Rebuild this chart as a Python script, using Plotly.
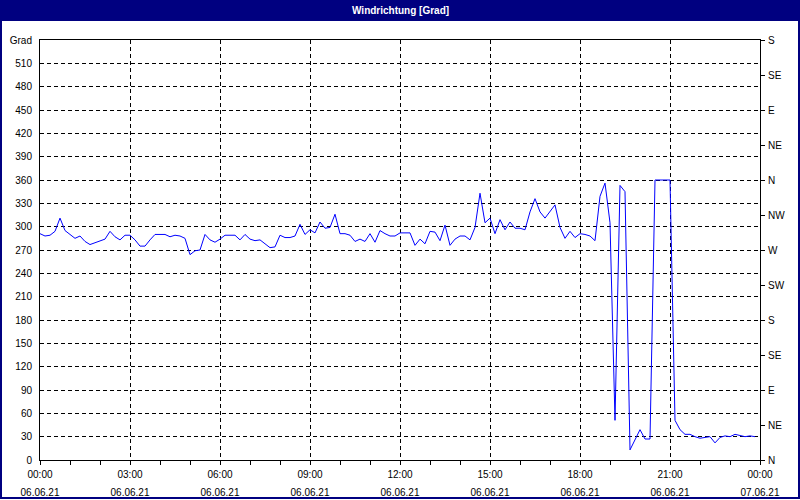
import pandas as pd
import plotly.graph_objects as go

# ---- data ----
start_time = "2021-06-06 00:00"
interval = "10min"
direction_deg = [
    291, 288, 289, 294, 311, 295, 290, 285, 288, 281, 277, 279, 281, 284, 294, 287, 283, 289, 289, 283, 275, 275, 283, 290, 290,
    290, 287, 289, 288, 285, 264, 269, 270, 290, 283, 280, 284, 289, 289, 289, 283, 290, 284, 282, 283, 278, 273, 274, 289,
    286, 286, 288, 303, 290, 296, 292, 306, 298, 299, 316, 291, 291, 289, 281, 284, 281, 291, 280, 295, 291, 288, 288, 292,
    292, 292, 276, 284, 278, 294, 293, 282, 302, 276, 284, 288, 288, 283, 299, 343, 305, 311, 291, 309, 296, 306, 298, 298,
    296, 319, 336, 319, 311, 319, 328, 299, 285, 294, 286, 291, 290, 288, 282,
    339, 356, 305, 51, 353, 345, 13, 26, 39, 27, 27, 360, 360, 360, 360,
    51, 39, 33, 33, 30, 28, 29, 30, 22, 29, 31, 30, 33, 31, 30, 31, 30,
]
times = pd.date_range(start_time, periods=len(direction_deg), freq=interval)

x_tickvals = ["2021-06-06 00:00", "2021-06-06 03:00", "2021-06-06 06:00", "2021-06-06 09:00",
              "2021-06-06 12:00", "2021-06-06 15:00", "2021-06-06 18:00", "2021-06-06 21:00",
              "2021-06-07 00:00"]
x_time_labels = ["00:00", "03:00", "06:00", "09:00", "12:00", "15:00", "18:00", "21:00", "00:00"]
x_date_labels = ["06.06.21"] * 8 + ["07.06.21"]

y_left_vals = list(range(0, 541, 30))
y_left_labels = [str(v) for v in range(0, 511, 30)] + ["Grad"]
y_right_vals = list(range(0, 541, 45))
y_right_labels = ["N", "NE", "E", "SE", "S", "SW", "W", "NW", "N", "NE", "E", "SE", "S"]

title_text = "Windrichtung [Grad]"

# ---- figure ----
W, H = 800, 500
L, R, T, B = 40, 40, 40, 40
pw, ph = W - L - R, H - T - B

def px_x(p):
    return (p - L) / pw

def px_y(p):
    return (H - B - p) / ph

NAVY = "#000080"
FONT = dict(family="Liberation Sans, Arial, sans-serif", size=10, color="black")

fig = go.Figure()
fig.add_trace(go.Scatter(x=times, y=direction_deg, mode="lines",
                         line=dict(color="#0000FF", width=1), showlegend=False,
                         hoverinfo="x+y"))
# helper invisible trace so the secondary axes are drawn
fig.add_trace(go.Scatter(x=times, y=direction_deg, mode="lines", xaxis="x2", yaxis="y2",
                         line=dict(color="rgba(0,0,0,0)", width=0), showlegend=False,
                         hoverinfo="skip"))

fig.update_layout(
    template="none",
    width=W, height=H,
    margin=dict(l=L, r=R, t=T, b=B, autoexpand=False),
    paper_bgcolor="white", plot_bgcolor="white",
    font=FONT,
    showlegend=False,
    xaxis=dict(
        type="date", automargin=False,
        range=["2021-06-06 00:00", "2021-06-07 00:00"],
        tickmode="array", tickvals=x_tickvals, ticktext=x_time_labels,
        ticks="outside", ticklen=4, tickcolor="black", tickwidth=1,
        minor=dict(dtick=3600000, tick0="2021-06-06", ticks="outside", ticklen=4,
                   tickcolor="black", showgrid=False),
        showgrid=True, gridcolor="black", gridwidth=1, griddash="4px,3px",
        showline=True, linecolor="black", linewidth=1, mirror=True,
        zeroline=False, ticklabelstandoff=1,
    ),
    xaxis2=dict(
        type="date", overlaying="x", side="bottom", anchor="y", automargin=False,
        range=["2021-06-06 00:00", "2021-06-07 00:00"],
        tickmode="array", tickvals=x_tickvals, ticktext=x_date_labels,
        ticks="", showgrid=False, showline=False, zeroline=False,
        ticklabelstandoff=25,
    ),
    yaxis=dict(
        range=[0, 540], automargin=False,
        tickmode="array", tickvals=y_left_vals, ticktext=y_left_labels,
        ticks="", showgrid=True, gridcolor="black", gridwidth=1, griddash="4px,3px",
        showline=True, linecolor="black", linewidth=1, mirror=True,
        zeroline=False, ticklabelstandoff=5,
    ),
    yaxis2=dict(
        overlaying="y", side="right", anchor="x", automargin=False,
        range=[0, 540],
        tickmode="array", tickvals=y_right_vals, ticktext=y_right_labels,
        ticks="outside", ticklen=4, tickcolor="black",
        showgrid=False, showline=False, zeroline=False, ticklabelstandoff=1,
    ),
)

# title bar and window frame
fig.add_shape(type="rect", xref="paper", yref="paper",
              x0=px_x(0), x1=px_x(800), y0=px_y(21), y1=px_y(0),
              fillcolor=NAVY, line=dict(width=0), layer="below")
fig.add_shape(type="rect", xref="paper", yref="paper",
              x0=px_x(1), x1=px_x(799), y0=px_y(498), y1=px_y(1),
              fillcolor="rgba(0,0,0,0)", line=dict(color=NAVY, width=2))
fig.add_annotation(text="<b>" + title_text + "</b>", xref="paper", yref="paper",
                   x=0.5, y=px_y(10), xanchor="center", yanchor="middle",
                   showarrow=False, font=dict(family="Liberation Sans, Arial, sans-serif",
                                              size=10, color="white"))

fig.write_html("out.html",
               config={"displayModeBar": False},
               post_script="document.body.style.margin='0';document.body.style.padding='0';")
